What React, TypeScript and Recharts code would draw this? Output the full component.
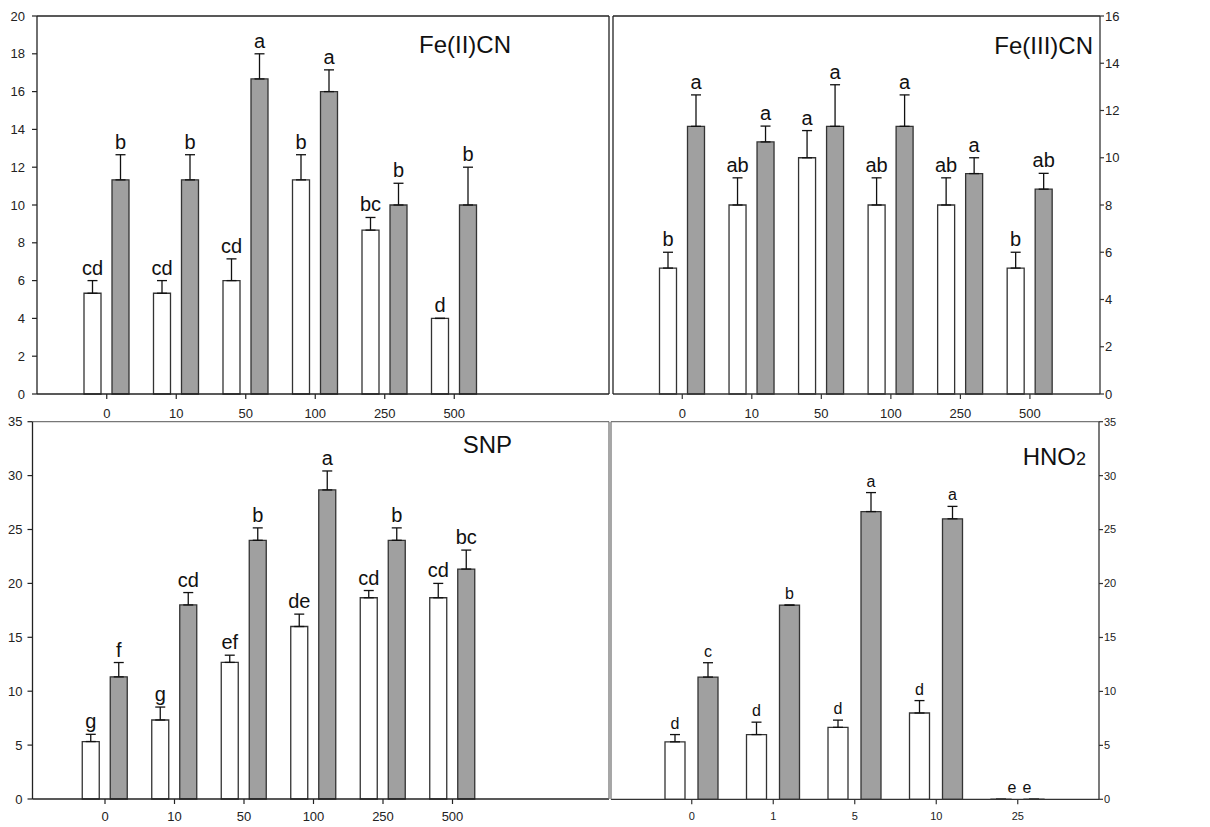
import type { ReactNode } from 'react'
import { BarChart, Bar, XAxis, YAxis, ErrorBar, LabelList } from 'recharts'

const FONT = '"Liberation Sans", Arial, Helvetica, sans-serif'
const GRAY_FILL = '#a0a0a0'
const OUTLINE = '#333333'

// concentrations on the x axes
const ironCategories = ['0', '10', '50', '100', '250', '500']
const nitriteCategories = ['0', '1', '5', '10', '25']

// Fe(II)CN
const fe2Open = [5.33, 5.33, 6, 11.33, 8.67, 4]
const fe2OpenErr = [0.67, 0.67, 1.15, 1.33, 0.67, 0]
const fe2Filled = [11.33, 11.33, 16.67, 16, 10, 10]
const fe2FilledErr = [1.33, 1.33, 1.33, 1.15, 1.15, 2]
const fe2OpenLetters = ['cd', 'cd', 'cd', 'b', 'bc', 'd']
const fe2FilledLetters = ['b', 'b', 'a', 'a', 'b', 'b']

// Fe(III)CN
const fe3Open = [5.33, 8, 10, 8, 8, 5.33]
const fe3OpenErr = [0.67, 1.15, 1.15, 1.15, 1.15, 0.67]
const fe3Filled = [11.33, 10.67, 11.33, 11.33, 9.33, 8.67]
const fe3FilledErr = [1.33, 0.67, 1.76, 1.33, 0.67, 0.67]
const fe3OpenLetters = ['b', 'ab', 'a', 'ab', 'ab', 'b']
const fe3FilledLetters = ['a', 'a', 'a', 'a', 'a', 'ab']

// SNP
const snpOpen = [5.33, 7.33, 12.67, 16, 18.67, 18.67]
const snpOpenErr = [0.67, 1.2, 0.67, 1.15, 0.67, 1.33]
const snpFilled = [11.33, 18, 24, 28.67, 24, 21.33]
const snpFilledErr = [1.33, 1.15, 1.15, 1.76, 1.15, 1.76]
const snpOpenLetters = ['g', 'g', 'ef', 'de', 'cd', 'cd']
const snpFilledLetters = ['f', 'cd', 'b', 'a', 'b', 'bc']

// HNO2
const hnoOpen = [5.33, 6, 6.67, 8, 0]
const hnoOpenErr = [0.67, 1.15, 0.67, 1.15, 0]
const hnoFilled = [11.33, 18, 26.67, 26, 0]
const hnoFilledErr = [1.33, 0, 1.76, 1.15, 0]
const hnoOpenLetters = ['d', 'd', 'd', 'd', 'e']
const hnoFilledLetters = ['c', 'b', 'a', 'a', 'e']

const ticks20 = [0, 2, 4, 6, 8, 10, 12, 14, 16, 18, 20]
const ticks16 = [0, 2, 4, 6, 8, 10, 12, 14, 16]
const ticks35 = [0, 5, 10, 15, 20, 25, 30, 35]

function buildRows(
  categories: string[],
  open: number[],
  openErr: number[],
  filled: number[],
  filledErr: number[],
  openLetters: string[],
  filledLetters: string[],
) {
  return categories.map((name, i) => ({
    name,
    open: open[i],
    openErr: [0, openErr[i]],
    openLetter: openLetters[i],
    filled: filled[i],
    filledErr: [0, filledErr[i]],
    filledLetter: filledLetters[i],
  }))
}

// letter sits a few px above the top of the error bar
function letterContent(values: number[], errs: number[], fontSize: number, zeroShift: number) {
  return (props: any) => {
    const vb = props.viewBox ?? {}
    const x = Number(vb.x ?? props.x)
    const y = Number(vb.y ?? props.y)
    const w = Number(vb.width ?? props.width)
    const h = Number(vb.height ?? props.height)
    const i = props.index as number
    const v = values[i]
    const top = v > 0 ? Math.min(y, y + h) : Math.max(y, y + h)
    const errPx = v > 0 ? (errs[i] * Math.abs(h)) / v : 0
    return (
      <text
        x={x + w / 2 + (v > 0 ? 0 : zeroShift)}
        y={top - errPx - 6}
        textAnchor="middle"
        fontSize={fontSize}
        fontFamily={FONT}
        fill="#111"
      >
        {props.value}
      </text>
    )
  }
}

// keeps zero-height bars in the layout so their letters are still drawn
const keepZeroBars = (value: any) => (Number(value) === 0 ? 0.1 : 0)

interface PanelProps {
  rows: ReturnType<typeof buildRows>
  open: number[]
  openErr: number[]
  filled: number[]
  filledErr: number[]
  title: ReactNode
  x: number
  y: number
  width: number
  height: number
  axisSide: 'left' | 'right'
  axisWidth: number
  borderWidth: number
  marginTop: number
  xAxisHeight: number
  padLeft: number
  padRight: number
  yMax: number
  yTicks: number[]
  tickFont: number
  letterFont: number
  barSize: number
  barGap: number
  frameColor: string
  axisColor: string
  titleRight: number
  titleTop: number
  titleSize: number
  yTickMargin: number
  xTickMargin: number
}

function Panel(p: PanelProps) {
  const leftW = p.axisSide === 'left' ? p.axisWidth : p.borderWidth
  const rightW = p.axisSide === 'left' ? p.borderWidth : p.axisWidth
  const tickStyle = { fontSize: p.tickFont, fill: '#222', fontFamily: FONT }
  return (
    <div style={{ position: 'absolute', left: p.x, top: p.y, width: p.width, height: p.height }}>
      <BarChart
        width={p.width}
        height={p.height}
        data={p.rows}
        margin={{ top: p.marginTop - 1, right: 0, bottom: 0, left: 0 }}
        barSize={p.barSize}
        barGap={p.barGap}
      >
        <XAxis
          dataKey="name"
          height={p.xAxisHeight}
          padding={{ left: p.padLeft, right: p.padRight }}
          interval={0}
          tick={tickStyle}
          tickSize={5}
          tickMargin={p.xTickMargin}
          axisLine={{ stroke: p.axisColor, strokeWidth: 1.3 }}
          tickLine={{ stroke: p.axisColor, strokeWidth: 1.2 }}
        />
        <XAxis
          xAxisId="top"
          dataKey="name"
          orientation="top"
          height={1}
          tick={false}
          tickLine={false}
          axisLine={{ stroke: p.frameColor, strokeWidth: 1.3 }}
        />
        <YAxis
          orientation={p.axisSide}
          width={p.axisSide === 'left' ? leftW : rightW}
          type="number"
          domain={[0, p.yMax]}
          ticks={p.yTicks}
          interval={0}
          tick={tickStyle}
          tickSize={p.axisSide === 'left' ? 5 : 4}
          tickMargin={p.yTickMargin}
          axisLine={{ stroke: p.axisColor, strokeWidth: 1.3 }}
          tickLine={{ stroke: p.axisColor, strokeWidth: 1.2 }}
        />
        <YAxis
          yAxisId="border"
          orientation={p.axisSide === 'left' ? 'right' : 'left'}
          width={p.axisSide === 'left' ? rightW : leftW}
          type="number"
          domain={[0, 1]}
          tick={false}
          tickLine={false}
          axisLine={{ stroke: p.frameColor, strokeWidth: 1.3 }}
        />
        <Bar
          dataKey="open"
          fill="#ffffff"
          stroke={OUTLINE}
          strokeWidth={1.3}
          minPointSize={keepZeroBars}
          isAnimationActive={false}
        >
          <ErrorBar dataKey="openErr" width={5} stroke="#111" strokeWidth={1.3} direction="y" isAnimationActive={false} />
          <LabelList dataKey="openLetter" content={letterContent(p.open, p.openErr, p.letterFont, 11)} />
        </Bar>
        <Bar
          dataKey="filled"
          fill={GRAY_FILL}
          stroke={OUTLINE}
          strokeWidth={1.3}
          minPointSize={keepZeroBars}
          isAnimationActive={false}
        >
          <ErrorBar dataKey="filledErr" width={5} stroke="#111" strokeWidth={1.3} direction="y" isAnimationActive={false} />
          <LabelList dataKey="filledLetter" content={letterContent(p.filled, p.filledErr, p.letterFont, -7)} />
        </Bar>
      </BarChart>
      <div
        style={{
          position: 'absolute',
          right: p.width - p.titleRight,
          top: p.titleTop,
          fontFamily: FONT,
          fontSize: p.titleSize,
          lineHeight: `${p.titleSize}px`,
          color: '#111',
          whiteSpace: 'nowrap',
        }}
      >
        {p.title}
      </div>
    </div>
  )
}

export default function App() {
  const shared = {
    tickFont: 13,
    letterFont: 20,
    barSize: 17,
    barGap: 11,
    titleSize: 24,
  }
  return (
    <div
      style={{
        position: 'absolute',
        left: 0,
        top: 0,
        width: 1210,
        height: 827,
        background: '#fff',
        overflow: 'hidden',
      }}
    >
      <Panel
        {...shared}
        rows={buildRows(ironCategories, fe2Open, fe2OpenErr, fe2Filled, fe2FilledErr, fe2OpenLetters, fe2FilledLetters)}
        open={fe2Open}
        openErr={fe2OpenErr}
        filled={fe2Filled}
        filledErr={fe2FilledErr}
        title="Fe(II)CN"
        x={0}
        y={0}
        width={620}
        height={420}
        axisSide="left"
        axisWidth={37}
        borderWidth={11}
        marginTop={16}
        xAxisHeight={26}
        padLeft={35}
        padRight={120}
        yMax={20}
        yTicks={ticks20}
        frameColor="#222"
        axisColor="#222"
        titleRight={511}
        titleTop={33}
        yTickMargin={7}
        xTickMargin={10}
      />
      <Panel
        {...shared}
        rows={buildRows(ironCategories, fe3Open, fe3OpenErr, fe3Filled, fe3FilledErr, fe3OpenLetters, fe3FilledLetters)}
        open={fe3Open}
        openErr={fe3OpenErr}
        filled={fe3Filled}
        filledErr={fe3FilledErr}
        title="Fe(III)CN"
        x={600}
        y={0}
        width={610}
        height={420}
        axisSide="right"
        axisWidth={110}
        borderWidth={13}
        marginTop={16}
        xAxisHeight={26}
        padLeft={34.5}
        padRight={35.3}
        yMax={16}
        yTicks={ticks16}
        frameColor="#222"
        axisColor="#333"
        titleRight={493}
        titleTop={34}
        yTickMargin={1}
        xTickMargin={10}
      />
      <Panel
        {...shared}
        rows={buildRows(ironCategories, snpOpen, snpOpenErr, snpFilled, snpFilledErr, snpOpenLetters, snpFilledLetters)}
        open={snpOpen}
        openErr={snpOpenErr}
        filled={snpFilled}
        filledErr={snpFilledErr}
        title="SNP"
        x={0}
        y={405}
        width={620}
        height={422}
        axisSide="left"
        axisWidth={32.5}
        borderWidth={11}
        marginTop={16.7}
        xAxisHeight={28}
        padLeft={37.75}
        padRight={121.75}
        yMax={35}
        yTicks={ticks35}
        frameColor="#777"
        axisColor="#222"
        titleRight={512}
        titleTop={28}
        yTickMargin={5}
        xTickMargin={8}
      />
      <Panel
        {...shared}
        rows={buildRows(nitriteCategories, hnoOpen, hnoOpenErr, hnoFilled, hnoFilledErr, hnoOpenLetters, hnoFilledLetters)}
        open={hnoOpen}
        openErr={hnoOpenErr}
        filled={hnoFilled}
        filledErr={hnoFilledErr}
        title={
          <>
            HNO<span style={{ fontSize: 18 }}>2</span>
          </>
        }
        x={600}
        y={405}
        width={610}
        height={422}
        axisSide="right"
        axisWidth={111}
        borderWidth={11}
        marginTop={16.7}
        xAxisHeight={27.7}
        padLeft={40}
        padRight={40.5}
        yMax={35}
        yTicks={ticks35}
        frameColor="#777"
        axisColor="#333"
        titleRight={486}
        titleTop={40}
        yTickMargin={1}
        xTickMargin={8}
        tickFont={11}
        letterFont={16}
        barSize={20}
        barGap={13}
      />
    </div>
  )
}
